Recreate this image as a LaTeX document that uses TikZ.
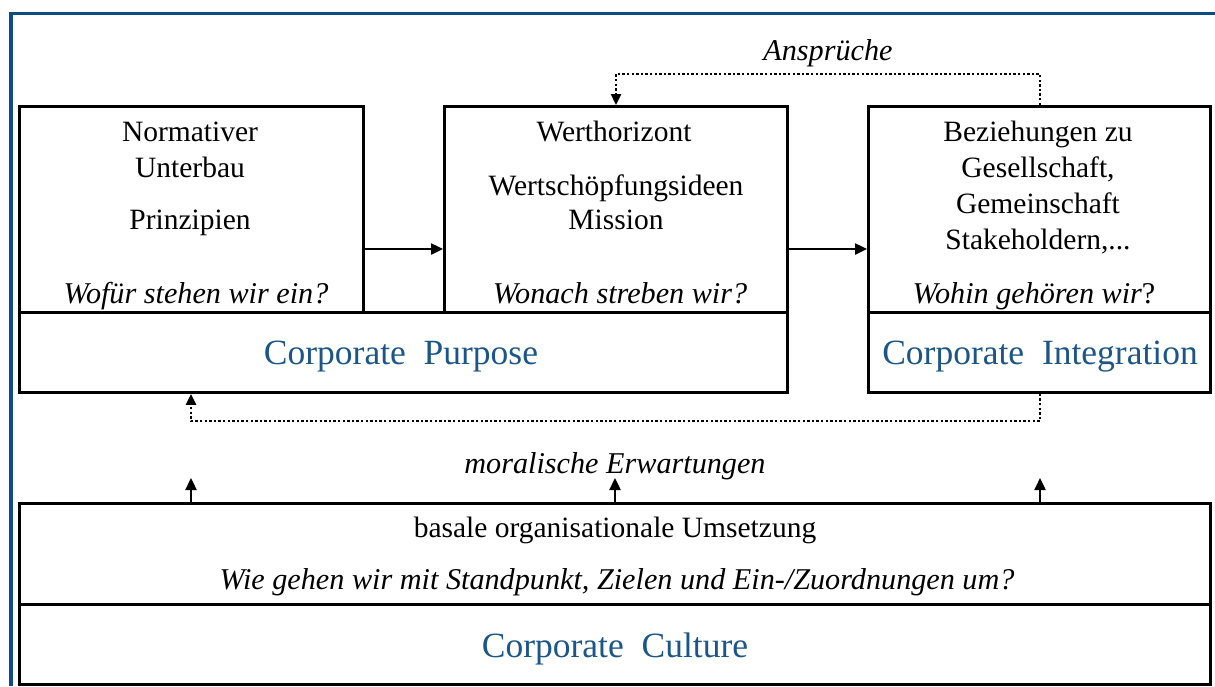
\documentclass[tikz,border=0pt]{standalone}
\usepackage{fontspec}
\setmainfont{Liberation Serif}
\usetikzlibrary{arrows.meta}
\definecolor{frameblue}{RGB}{12,76,132}
\definecolor{labelblue}{RGB}{28,86,136}
\begin{document}
\begin{tikzpicture}[x=1pt,y=-1pt,
  panel/.style={draw=black,line width=2.8pt,anchor=north west,inner sep=0pt},
  body/.style={font=\fontsize{29.5}{36}\selectfont,anchor=base,inner sep=0pt},
  question/.style={font=\fontsize{30.2}{36}\selectfont\itshape,anchor=base,inner sep=0pt},
  heading/.style={font=\fontsize{35.5}{40}\selectfont,text=labelblue,anchor=base,inner sep=0pt},
  arr/.style={line width=2.4pt,-{Triangle[length=12pt,width=11pt]}},
  dotarr/.style={line width=2.4pt,dash pattern=on 2.4pt off 2.2pt,-{Triangle[length=11pt,width=10pt]}}
]
\useasboundingbox (0,0) rectangle (1215,686);
% outer frame (top and left edges)
\draw[frameblue,line width=3.2pt] (11,686) -- (11,13.5) -- (1215,13.5);

% upper panels
\node[panel,minimum width=344pt,minimum height=206pt] (norm) at (18,105) {};
\node[panel,minimum width=343pt,minimum height=206pt] (wert) at (443,105) {};
\node[panel,minimum width=342pt,minimum height=206pt] (bez) at (867,105) {};
\node[panel,minimum width=768pt,minimum height=80pt] (purpose) at (18,311) {};
\node[panel,minimum width=342pt,minimum height=80pt] (integ) at (867,311) {};
% lower panels
\node[panel,minimum width=1191pt,minimum height=101pt] (umsetz) at (18,502) {};
\node[panel,minimum width=1191pt,minimum height=80pt] (culture) at (18,603) {};

% panel texts
\node[body] (t1a) at (190,141) {Normativer};
\node[body] (t1b) at (190,177) {Unterbau};
\node[body] (t1c) at (190,229) {Prinzipien};
\node[question] (q1) at (196,303) {Wofür stehen wir ein?};

\node[body] (t2a) at (614,141) {Werthorizont};
\node[body] (t2b) at (616,195) {Wertschöpfungsideen};
\node[body] (t2c) at (616,229) {Mission};
\node[question] (q2) at (620,303) {Wonach streben wir?};

\node[body] (t3a) at (1038,141) {Beziehungen zu};
\node[body] (t3b) at (1038,177) {Gesellschaft,};
\node[body] (t3c) at (1038,213) {Gemeinschaft};
\node[body] (t3d) at (1038,249) {Stakeholdern,...};
\node[question] (q3) at (1034,303) {Wohin gehören wir\upshape?};

\node[heading] (hp) at (401,364) {Corporate\ \ Purpose};
\node[heading] (hi) at (1040,364) {Corporate\ \ Integration};

\node[body] (t4) at (615,537) {basale organisationale Umsetzung};
\node[question] (q4) at (617,589) {Wie gehen wir mit Standpunkt, Zielen und Ein-/Zuordnungen um?};
\node[heading] (hc) at (615,657) {Corporate\ \ Culture};

% connector labels
\node[question] (ansp) at (828,60) {Ansprüche};
\node[question] (moral) at (615,473) {moralische Erwartungen};

% solid arrows between the upper panels
\draw[arr] (norm.east |- 0,249) -- (wert.west |- 0,249);
\draw[arr] (wert.east |- 0,249) -- (bez.west |- 0,249);

% dotted feedback loops
\draw[dotarr] (bez.north -| 1040,0) |- (616,74) -- (wert.north -| 616,0);
\draw[dotarr] (integ.south -| 1040,0) |- (191,421) -- (purpose.south -| 191,0);

% short arrows rising from the culture block
\coordinate (up1) at (191,478);
\coordinate (up2) at (615,478);
\coordinate (up3) at (1040,478);
\draw[arr] (umsetz.north -| up1) -- (up1);
\draw[arr] (umsetz.north -| up2) -- (up2);
\draw[arr] (umsetz.north -| up3) -- (up3);
\end{tikzpicture}
\end{document}
